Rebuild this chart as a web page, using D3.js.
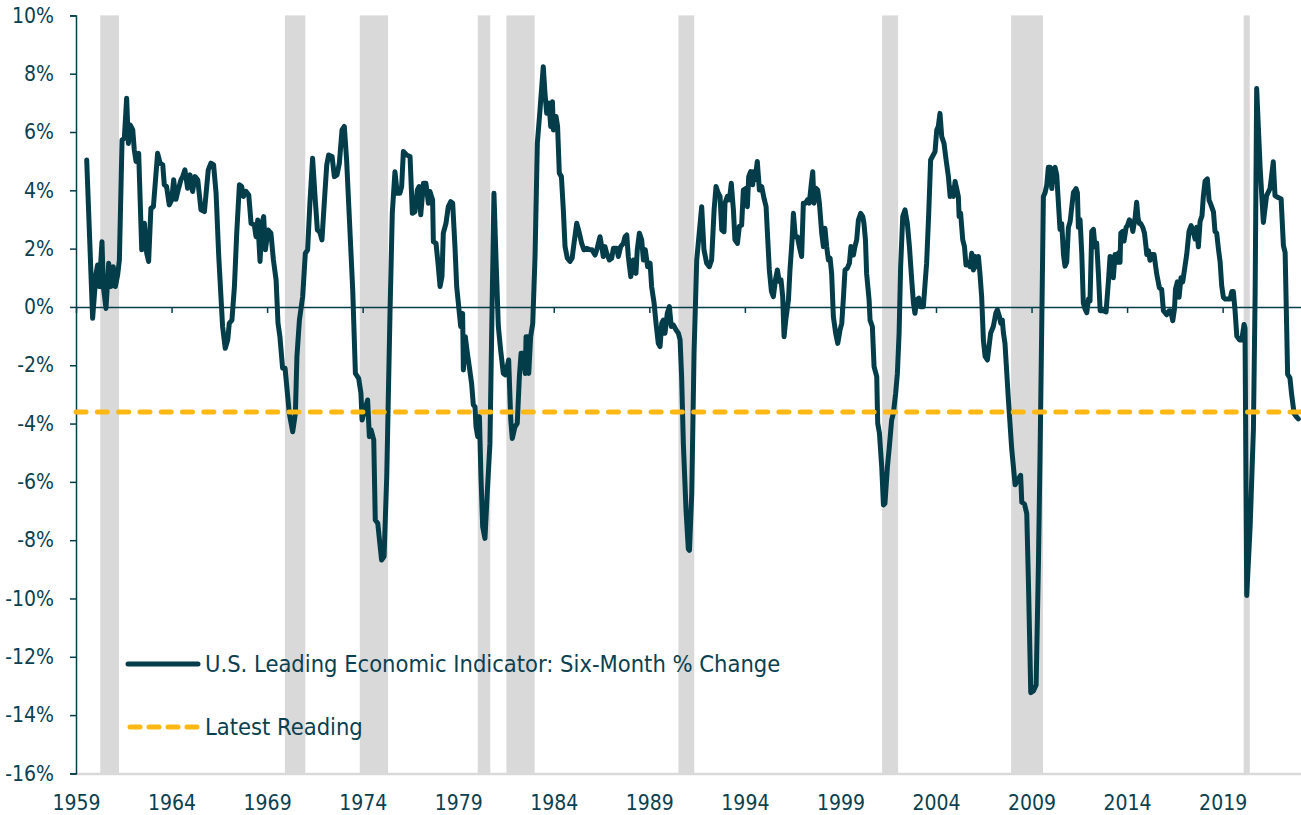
<!DOCTYPE html>
<html lang="en">
<head>
<meta charset="UTF-8">
<title>U.S. Leading Economic Indicator: Six-Month % Change</title>
<script src="https://d3js.org/d3.v7.min.js"></script>
<style>
  body { margin: 0; background: #fff; }
  svg { display: block; }
  text { font-family: "DejaVu Sans Condensed", "DejaVu Sans", sans-serif; fill: #0b4050; }
</style>
</head>
<body>
<svg id="chart" width="1301" height="815"></svg>
<script>
// six-month % change of the LEI (decimal year, value)
const dates = [
  1959.56, 1959.87, 1960.05, 1960.13, 1960.22, 1960.36, 1960.43, 1960.57, 1960.71, 1960.83, 1960.95,
  1961.06, 1961.18, 1961.27, 1961.41, 1961.53, 1961.65, 1961.74, 1961.84, 1961.97,
  1962.05, 1962.14, 1962.28, 1962.44, 1962.58, 1962.70, 1962.80, 1962.92,
  1963.05, 1963.27, 1963.40, 1963.54, 1963.62, 1963.74, 1963.88,
  1964.01, 1964.11, 1964.23, 1964.37, 1964.49, 1964.58, 1964.70, 1964.84, 1964.97,
  1965.10, 1965.23, 1965.37, 1965.54, 1965.72, 1965.92,
  1966.06, 1966.20, 1966.33, 1966.47, 1966.67, 1966.81, 1966.94,
  1967.02, 1967.16, 1967.29, 1967.41, 1967.55, 1967.67, 1967.76, 1967.90,
  1968.04, 1968.16, 1968.33, 1968.42, 1968.51, 1968.63, 1968.73, 1968.82, 1968.91,
  1969.05, 1969.20, 1969.33, 1969.47, 1969.57, 1969.67, 1969.81, 1969.94,
  1970.08, 1970.16, 1970.34, 1970.48, 1970.56, 1970.69, 1970.86,
  1971.00, 1971.12, 1971.24, 1971.38, 1971.52, 1971.63, 1971.75, 1971.87, 1971.99,
  1972.12, 1972.22, 1972.40, 1972.52, 1972.66, 1972.78, 1972.92,
  1973.04, 1973.16, 1973.30, 1973.48, 1973.62, 1973.79, 1973.91, 1973.97,
  1974.11, 1974.26, 1974.35, 1974.44, 1974.58, 1974.66, 1974.79, 1974.99,
  1975.12, 1975.26, 1975.43, 1975.55, 1975.69, 1975.81, 1975.95,
  1976.04, 1976.13, 1976.30, 1976.48, 1976.60, 1976.74, 1976.86, 1976.95,
  1977.04, 1977.18, 1977.31, 1977.44, 1977.52, 1977.66, 1977.70, 1977.84, 1977.96,
  1978.05, 1978.15, 1978.22, 1978.36, 1978.48, 1978.61, 1978.71, 1978.83, 1978.92,
  1979.06, 1979.13, 1979.23, 1979.27, 1979.37, 1979.48, 1979.58, 1979.70, 1979.79, 1979.88, 1979.93,
  1980.02, 1980.11, 1980.19, 1980.28, 1980.40, 1980.52, 1980.66, 1980.77, 1980.87, 1980.98,
  1981.10, 1981.22, 1981.36, 1981.47, 1981.64, 1981.75, 1981.83, 1981.97,
  1982.09, 1982.20, 1982.29, 1982.41, 1982.51, 1982.55, 1982.65, 1982.69, 1982.79, 1982.90,
  1983.02, 1983.14, 1983.28, 1983.45, 1983.54, 1983.63, 1983.75, 1983.84, 1983.93, 1983.98,
  1984.12, 1984.20, 1984.29, 1984.40, 1984.50, 1984.59, 1984.71, 1984.85, 1984.96,
  1985.06, 1985.20, 1985.34, 1985.46, 1985.58, 1985.72, 1985.90,
  1986.00, 1986.16, 1986.25, 1986.42, 1986.51, 1986.59, 1986.68, 1986.77, 1986.91,
  1987.03, 1987.12, 1987.29, 1987.38, 1987.50, 1987.64, 1987.73, 1987.82, 1987.90,
  1988.03, 1988.17, 1988.30, 1988.37, 1988.48, 1988.60, 1988.69, 1988.79, 1988.91,
  1989.04, 1989.12, 1989.25, 1989.35, 1989.47, 1989.56, 1989.65, 1989.73, 1989.82, 1989.94,
  1990.05, 1990.15, 1990.26, 1990.40, 1990.52, 1990.61, 1990.69, 1990.78, 1990.92,
  1991.04, 1991.10, 1991.22, 1991.34, 1991.48, 1991.74, 1991.86,
  1992.00, 1992.14, 1992.26, 1992.39, 1992.49, 1992.61, 1992.70, 1992.79, 1992.91, 1992.96,
  1993.08, 1993.19, 1993.29, 1993.40, 1993.48, 1993.61, 1993.71, 1993.83, 1993.92,
  1994.06, 1994.13, 1994.20, 1994.30, 1994.41, 1994.44, 1994.53, 1994.65, 1994.76, 1994.88,
  1995.00, 1995.11, 1995.18, 1995.28, 1995.39, 1995.49, 1995.60, 1995.70, 1995.80, 1995.89, 1995.98,
  1996.05, 1996.15, 1996.28, 1996.36, 1996.47, 1996.54, 1996.64, 1996.75, 1996.85, 1996.97,
  1997.06, 1997.17, 1997.27, 1997.37, 1997.48, 1997.55, 1997.62, 1997.72, 1997.81, 1997.90,
  1998.02, 1998.11, 1998.19, 1998.28, 1998.37, 1998.46, 1998.54, 1998.63, 1998.75, 1998.86, 1998.98,
  1999.07, 1999.15, 1999.24, 1999.36, 1999.47, 1999.55, 1999.68, 1999.76, 1999.85, 1999.94,
  2000.06, 2000.17, 2000.23, 2000.31, 2000.37, 2000.50, 2000.55, 2000.67, 2000.76, 2000.90, 2000.95,
  2001.04, 2001.16, 2001.25, 2001.33, 2001.46, 2001.56, 2001.68, 2001.77, 2001.89, 2001.98,
  2002.07, 2002.15, 2002.26, 2002.38, 2002.50, 2002.61, 2002.73, 2002.82, 2002.90, 2002.99,
  2003.10, 2003.17, 2003.34, 2003.43, 2003.51, 2003.62, 2003.72, 2003.95,
  2004.04, 2004.12, 2004.21, 2004.30, 2004.42, 2004.53, 2004.65, 2004.74, 2004.84, 2004.91,
  2005.00, 2005.08, 2005.17, 2005.21, 2005.29, 2005.40, 2005.49, 2005.57, 2005.68, 2005.78, 2005.87, 2005.96,
  2006.04, 2006.13, 2006.22, 2006.30, 2006.39, 2006.48, 2006.57, 2006.69, 2006.86,
  2007.00, 2007.13, 2007.21, 2007.32, 2007.39, 2007.47, 2007.53, 2007.61, 2007.79, 2007.96,
  2008.14, 2008.31, 2008.43, 2008.49, 2008.63, 2008.75, 2008.84, 2008.96,
  2009.10, 2009.24, 2009.36, 2009.45, 2009.53, 2009.62, 2009.71, 2009.80, 2009.88, 2009.97,
  2010.06, 2010.14, 2010.23, 2010.32, 2010.41, 2010.49, 2010.58, 2010.67, 2010.75, 2010.84, 2010.93,
  2011.02, 2011.19, 2011.33, 2011.40, 2011.45, 2011.54, 2011.63, 2011.71, 2011.80, 2011.89, 2011.98,
  2012.06, 2012.15, 2012.24, 2012.32, 2012.41, 2012.50, 2012.59, 2012.76, 2012.90,
  2013.02, 2013.11, 2013.21, 2013.28, 2013.37, 2013.46, 2013.51, 2013.56, 2013.63, 2013.67, 2013.77, 2013.84, 2013.95,
  2014.02, 2014.12, 2014.23, 2014.30, 2014.42, 2014.50, 2014.57, 2014.64, 2014.71, 2014.82, 2014.91, 2014.98,
  2015.03, 2015.12, 2015.20, 2015.29, 2015.41, 2015.55, 2015.69, 2015.81, 2015.90,
  2016.07, 2016.20, 2016.28, 2016.39, 2016.48, 2016.53, 2016.63, 2016.72, 2016.82, 2016.91,
  2017.00, 2017.12, 2017.24, 2017.35, 2017.43, 2017.56, 2017.64, 2017.73, 2017.82, 2017.92, 2017.99,
  2018.08, 2018.20, 2018.29, 2018.38, 2018.52, 2018.60, 2018.69, 2018.78, 2018.87, 2018.95,
  2019.04, 2019.14, 2019.25, 2019.39, 2019.48, 2019.56, 2019.65, 2019.74, 2019.88,
  2020.00, 2020.12, 2020.17, 2020.26, 2020.44, 2020.61, 2020.70, 2020.78, 2020.96,
  2021.13, 2021.30, 2021.48, 2021.65, 2021.74, 2021.88,
  2022.06, 2022.18, 2022.27, 2022.40, 2022.52, 2022.61, 2022.74, 2022.88, 2022.96
];
const lei = [
  5.04, -0.39, 1.15, 1.44, 0.70, 2.24, 0.70, -0.05, 1.50, 0.70, 1.38,
  0.70, 1.10, 1.61, 5.73, 5.79, 7.16, 5.61, 6.24, 6.07,
  5.39, 4.99, 5.27, 1.96, 2.87, 1.84, 1.56, 3.38,
  3.44, 5.27, 4.93, 4.87, 4.19, 4.13, 3.50,
  3.67, 4.36, 3.69, 4.07, 4.36, 4.47, 4.70, 4.07, 4.53,
  3.96, 4.47, 4.36, 3.33, 3.27, 4.70,
  4.93, 4.87, 3.90, 1.73, -0.67, -1.42, -1.13,
  -0.56, -0.45, 0.70, 2.53, 4.19, 4.13, 3.79, 3.96,
  3.84, 2.87, 2.81, 2.41, 2.98, 1.56, 2.87, 3.10, 1.96,
  2.64, 2.53, 1.61, 0.93, -0.56, -1.02, -2.10, -2.10,
  -3.08, -3.65, -4.28, -3.65, -1.70, -0.45, 0.35,
  1.84, 1.96, 3.56, 5.10, 3.67, 2.64, 2.58, 2.30, 3.56,
  4.87, 5.21, 5.16, 4.47, 4.53, 4.93, 6.07,
  6.19, 5.04, 3.10, 0.58, -2.28, -2.45, -2.96, -3.88,
  -3.53, -3.19, -4.45, -4.22, -4.56, -7.31, -7.42, -8.68,
  -8.56, -5.82, -0.22, 3.21, 4.64, 3.90, 3.90,
  4.13, 5.33, 5.21, 5.16, 3.21, 3.27, 4.01, 4.13,
  3.16, 4.24, 4.24, 3.56, 3.96, 3.67, 2.24, 2.18, 1.38,
  0.70, 1.04, 2.53, 2.87, 3.44, 3.61, 3.56, 2.07, 0.70,
  -0.22, -0.67, -0.22, -2.16, -1.02, -1.59, -2.05, -2.62, -3.36, -3.42, -4.10,
  -4.45, -3.76, -5.82, -7.54, -7.94, -6.39, -4.68, -0.10, 3.90, 1.61,
  -0.67, -1.48, -2.28, -2.33, -1.82, -3.88, -4.51, -4.11,
  -3.99, -2.39, -1.59, -1.59, -2.28, -1.02, -1.02, -2.28, -1.02, -0.56,
  1.73, 5.61, 6.76, 8.24, 7.33, 6.64, 6.99, 6.19, 7.04, 6.07,
  6.53, 6.19, 4.59, 4.47, 3.33, 2.07, 1.67, 1.56, 1.67,
  2.18, 2.87, 2.53, 2.18, 1.96, 2.01, 1.96,
  1.96, 1.78, 1.96, 2.41, 2.07, 1.73, 2.07, 1.84, 1.61,
  1.67, 2.01, 2.01, 1.73, 2.07, 2.18, 2.41, 2.47, 1.73,
  1.04, 1.61, 1.15, 1.96, 2.53, 2.30, 1.61, 1.96, 1.38,
  1.50, 0.70, 0.13, -0.56, -1.25, -1.36, -0.56, -0.45, -0.90, -0.22,
  0.01, -0.67, -0.62, -0.79, -0.90, -1.13, -2.39, -4.68, -6.96,
  -8.30, -8.35, -6.39, -1.59, 1.61, 3.44, 1.96,
  1.50, 1.38, 1.61, 3.33, 4.13, 3.90, 3.79, 2.64, 2.58, 3.56,
  3.79, 3.67, 4.24, 3.33, 2.30, 2.18, 2.76, 2.81, 4.01,
  4.07, 3.44, 4.47, 4.64, 4.19, 4.64, 4.36, 4.99, 4.01, 4.13,
  3.73, 3.44, 2.53, 1.27, 0.53, 0.35, 0.93, 1.27, 0.87, 0.93, 0.35,
  -1.02, -0.39, 0.24, 1.27, 2.30, 3.21, 2.41, 2.41, 2.07, 1.73,
  3.56, 3.56, 3.67, 3.56, 4.24, 4.64, 3.56, 4.07, 4.01, 3.56,
  2.53, 2.07, 2.70, 2.07, 1.61, 1.67, 1.15, -0.33, -0.90, -1.25, -0.79,
  -0.56, 0.24, 1.27, 1.33, 1.50, 2.07, 1.78, 2.07, 2.30, 2.98,
  3.21, 3.10, 2.87, 2.30, 1.15, 0.24, -0.45, -0.67, -2.05, -2.39, -3.99,
  -4.33, -5.48, -6.79, -6.74, -5.48, -4.79, -3.88, -3.65, -2.96, -2.28,
  -0.90, 1.38, 3.10, 3.33, 2.87, 2.07, 0.93, 0.13, -0.22, 0.24,
  0.30, 0.01, 0.01, 0.81, 1.50, 3.21, 5.04, 5.33,
  6.07, 6.19, 6.64, 5.84, 5.61, 5.04, 4.47, 3.79, 4.07, 3.79,
  4.30, 4.07, 3.79, 3.10, 3.21, 2.30, 2.07, 1.44, 1.50, 1.38, 1.84, 1.27,
  1.73, 1.38, 1.73, 1.15, 0.35, -1.13, -1.70, -1.82, -0.90,
  -0.67, -0.22, -0.10, -0.33, -0.56, -0.45, -0.90, -1.25, -3.19, -4.85,
  -6.10, -5.90, -5.78, -6.70, -6.76, -7.09, -9.51, -13.23,
  -13.17, -12.97, -8.84, -4.85, -0.86, 3.79, 3.92, 4.19, 4.79, 4.79,
  4.06, 4.72, 4.79, 4.52, 3.52, 2.66, 2.86, 1.80, 1.40, 1.53, 2.73,
  2.93, 3.92, 4.06, 3.92, 2.73, 2.99, 1.80, 0.13, -0.07, -0.20, 0.27,
  0.20, 2.59, 2.66, 2.06, 2.19, 1.13, -0.13, -0.13, -0.17,
  0.86, 1.73, 1.69, 1.00, 1.80, 1.80, 1.53, 1.86, 1.53, 2.53, 2.59, 2.26, 2.73,
  2.79, 2.99, 2.86, 2.59, 3.06, 3.59, 3.06, 2.86, 2.86, 2.73, 2.53, 2.13,
  1.80, 1.93, 1.60, 1.80, 1.80, 1.13, 0.66, 0.60, -0.13,
  -0.27, -0.13, -0.13, -0.47, -0.07, 0.60, 0.86, 0.33, 1.00, 0.86,
  1.26, 1.80, 2.59, 2.79, 2.66, 2.33, 2.73, 2.06, 2.93, 3.13, 3.79,
  4.32, 4.39, 3.66, 3.52, 3.26, 2.59, 2.53, 1.99, 1.53, 0.73,
  0.33, 0.27, 0.27, 0.27, 0.53, 0.53, -0.13, -1.00, -1.13,
  -1.13, -0.60, -0.73, -9.90, -7.51, -4.19, 0.47, 7.49, 4.80,
  2.90, 3.82, 4.06, 4.98, 3.82, 3.76,
  3.70, 2.10, 1.86, -2.31, -2.43, -3.00, -3.66, -3.78, -3.84
];

// NBER recessions (decimal years)
const recessionStart = [1960.27, 1969.93, 1973.85, 1980.02, 1981.52, 1990.52, 2001.18, 2007.93, 2020.10];
const recessionEnd   = [1961.25, 1971.00, 1975.33, 1980.68, 1983.00, 1991.35, 2002.02, 2009.60, 2020.42];

const latestReading = -3.6;

const yTicks = [-16, -14, -12, -10, -8, -6, -4, -2, 0, 2, 4, 6, 8, 10];
const xTicks = [1959, 1964, 1969, 1974, 1979, 1984, 1989, 1994, 1999, 2004, 2009, 2014, 2019];
const legendLabels = ["U.S. Leading Economic Indicator: Six-Month % Change", "Latest Reading"];

const teal = "#033d4a", orange = "#fdb813", band = "#d9d9d9";

const svg = d3.select("#chart");
const x = d3.scaleLinear().domain([1959, 2023.1]).range([76, 1301]);
const y = d3.scaleLinear().domain([-16, 10]).range([773.4, 15.4]);

// recession shading
svg.append("g").selectAll("rect")
  .data(recessionStart.map((s, i) => [s, recessionEnd[i]]))
  .join("rect")
  .attr("x", d => x(d[0]))
  .attr("width", d => x(d[1]) - x(d[0]))
  .attr("y", y(10))
  .attr("height", y(-16) - y(10))
  .attr("fill", band);

// bottom axis: light grey baseline and year labels
const xAxis = svg.append("g")
  .attr("transform", `translate(0,${y(-16)})`)
  .call(d3.axisBottom(x).tickValues(xTicks).tickSize(0).tickSizeOuter(0)
    .tickPadding(22).tickFormat(d3.format("d")));
xAxis.select(".domain").attr("stroke", band).attr("stroke-width", 2.5);
xAxis.selectAll("text").attr("font-size", 21).attr("fill", "#0b4050")
  .attr("font-family", '"DejaVu Sans Condensed", "DejaVu Sans", sans-serif');

// zero line with year ticks
const zeroAxis = svg.append("g")
  .attr("transform", `translate(0,${y(0)})`)
  .call(d3.axisBottom(x).tickValues(xTicks).tickSize(6).tickSizeOuter(0).tickFormat(""));
zeroAxis.select(".domain").attr("stroke", teal).attr("stroke-width", 1.5);
zeroAxis.selectAll(".tick line").attr("stroke", teal).attr("stroke-width", 1.5);

// y axis
const yAxis = svg.append("g")
  .attr("transform", "translate(76,0)")
  .call(d3.axisLeft(y).tickValues(yTicks).tickSize(6).tickSizeOuter(6)
    .tickPadding(16).tickFormat(d => d + "%"));
yAxis.select(".domain").attr("stroke", teal).attr("stroke-width", 1.5);
yAxis.selectAll(".tick line").attr("stroke", teal).attr("stroke-width", 1.5);
yAxis.selectAll("text").attr("font-size", 21).attr("fill", "#0b4050")
  .attr("font-family", '"DejaVu Sans Condensed", "DejaVu Sans", sans-serif');

// LEI line
const line = d3.line().x(d => x(d[0])).y(d => y(d[1]));
svg.append("path")
  .datum(dates.map((d, i) => [d, lei[i]]))
  .attr("d", line)
  .attr("fill", "none")
  .attr("stroke", teal)
  .attr("stroke-width", 5)
  .attr("stroke-linejoin", "round")
  .attr("stroke-linecap", "round");

// latest reading
svg.append("line")
  .attr("x1", x(1959)).attr("x2", x(2023.1))
  .attr("y1", y(latestReading)).attr("y2", y(latestReading))
  .attr("stroke", orange)
  .attr("stroke-width", 5)
  .attr("stroke-linecap", "round")
  .attr("stroke-dasharray", "10,11.3");

// legend
const legend = svg.append("g").attr("transform", "translate(128,664)");
legend.append("line")
  .attr("x1", 0).attr("x2", 70).attr("y1", 0).attr("y2", 0)
  .attr("stroke", teal).attr("stroke-width", 5).attr("stroke-linecap", "round");
legend.append("line")
  .attr("x1", 2).attr("x2", 70).attr("y1", 63).attr("y2", 63)
  .attr("stroke", orange).attr("stroke-width", 5).attr("stroke-linecap", "round")
  .attr("stroke-dasharray", "10,9");
legend.selectAll("text")
  .data(legendLabels)
  .join("text")
  .attr("x", 77)
  .attr("y", (d, i) => i * 63)
  .attr("dy", "0.35em")
  .attr("font-size", 23.5)
  .text(d => d);
</script>
</body>
</html>
